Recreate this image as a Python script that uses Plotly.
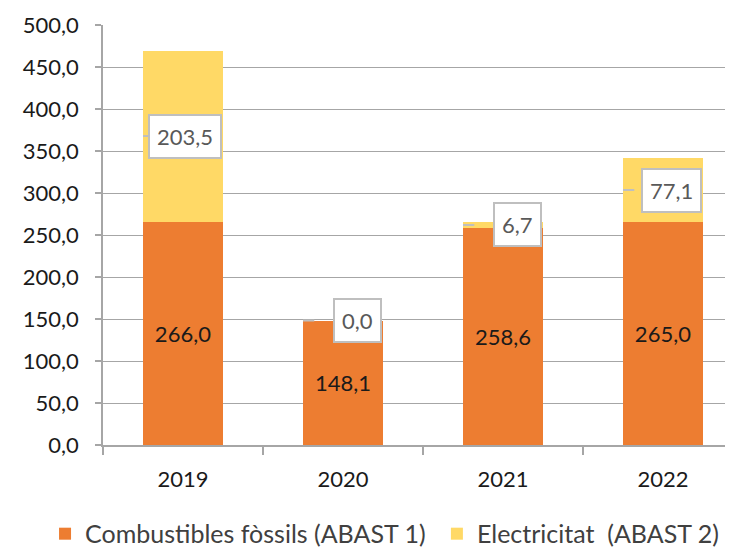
import plotly.graph_objects as go

years = ["2019", "2020", "2021", "2022"]
fossils = [266.0, 148.1, 258.6, 265.0]
electricity = [203.5, 0.0, 6.7, 77.1]
y_ticks = [0, 50, 100, 150, 200, 250, 300, 350, 400, 450, 500]
series_names = ["Combustibles fòssils (ABAST 1)", "Electricitat  (ABAST 2)"]

ORANGE = "#ED7D31"
YELLOW = "#FFD966"
FONT = "Lato"

fig = go.Figure()
fig.add_trace(go.Bar(
    x=years, y=fossils, name=series_names[0], marker_color=ORANGE,
    marker_line_width=0, width=0.5, legend="legend",
    texttemplate="%{y:.1f}", textposition="inside", insidetextanchor="middle",
    textangle=0, textfont=dict(family=FONT, size=22, color="#1a1a1a"),
))
fig.add_trace(go.Bar(
    x=years, y=electricity, name=series_names[1], marker_color=YELLOW,
    marker_line_width=0, width=0.5, legend="legend2",
))

annotations = []
for i, (f, e) in enumerate(zip(fossils, electricity)):
    yc = f + e / 2
    label = f"{e:.1f}".replace(".", ",")
    annotations.append(dict(
        x=i - 0.25, y=yc, xref="x", yref="y", text="",
        showarrow=True, axref="x", ayref="y", ax=i - 0.17, ay=yc,
        arrowhead=0, arrowwidth=2, arrowcolor="#BFBFBF", standoff=0,
    ))
    annotations.append(dict(
        x=i + 0.245, y=yc, xref="x", yref="y", text=label,
        showarrow=False, xanchor="right", yanchor="middle",
        bgcolor="white", bordercolor="#BFBFBF", borderwidth=2, borderpad=7,
        font=dict(family=FONT, size=22, color="#595959"),
    ))

legend_common = dict(
    orientation="h", xref="paper", yref="paper", xanchor="left",
    y=-0.157, yanchor="top", itemwidth=30,
    font=dict(family=FONT, size=25, color="#404040"),
)

fig.update_layout(
    barmode="stack",
    width=725, height=540,
    margin=dict(l=95, r=0, t=17, b=103, autoexpand=False),
    paper_bgcolor="white", plot_bgcolor="white",
    separators=",.",
    font=dict(family=FONT, size=22, color="#1a1a1a"),
    showlegend=True,
    legend=dict(x=-0.092, **legend_common),
    legend2=dict(x=0.530, **legend_common),
    annotations=annotations,
    xaxis=dict(
        type="category", range=[-0.5, 3.4375], automargin=False,
        showline=True, linecolor="#A6A6A6", linewidth=1.5,
        ticks="outside", tickson="boundaries", ticklen=8, tickcolor="#A6A6A6",
        tickwidth=1.5, showgrid=False, ticklabelstandoff=14,
        tickfont=dict(family=FONT, size=22, color="#1a1a1a"),
    ),
    yaxis=dict(
        range=[0, 500], tickvals=y_ticks, tickformat=".1f", automargin=False,
        showline=True, linecolor="#A6A6A6", linewidth=1.5,
        ticks="outside", ticklen=6, tickcolor="#A6A6A6", tickwidth=1.5,
        showgrid=True, gridcolor="#A6A6A6", gridwidth=1,
        zeroline=False, ticklabelstandoff=12,
        tickfont=dict(family=FONT, size=22, color="#1a1a1a"),
    ),
)

fig.write_html("out.html")
